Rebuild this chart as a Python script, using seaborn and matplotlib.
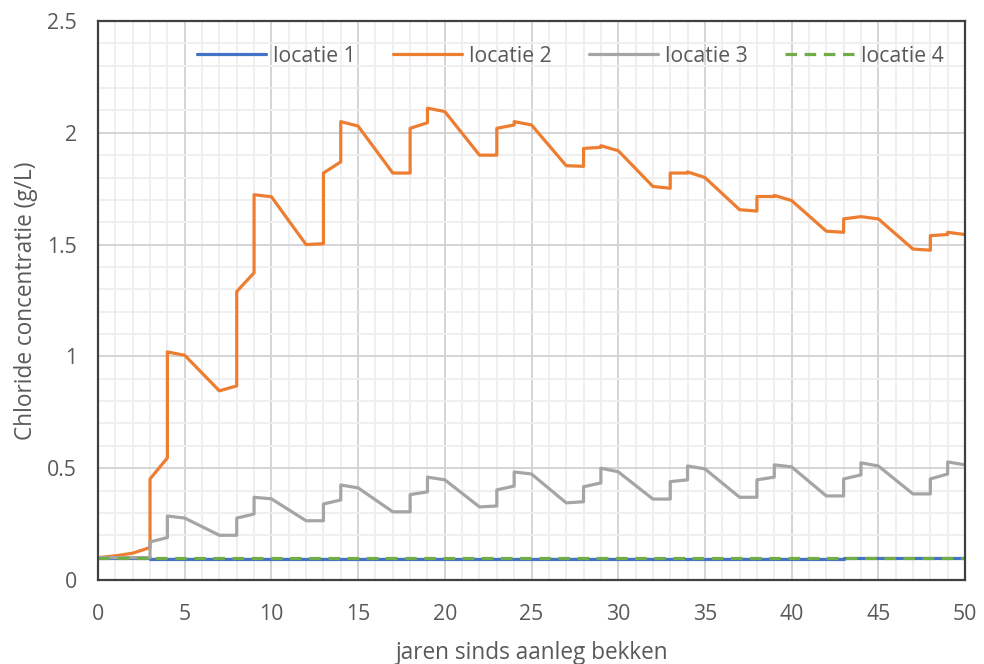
import matplotlib
matplotlib.use("Agg")
import matplotlib.pyplot as plt
from matplotlib.ticker import MultipleLocator, FuncFormatter
import seaborn as sns

# locatie 1
jaren_1 = [0, 3, 3, 43, 43, 50]
chloride_1 = [0.100, 0.100, 0.095, 0.095, 0.100, 0.100]

# locatie 2
jaren_2 = [0, 1, 2, 3, 3, 4, 4, 5, 7, 8, 8, 9, 9, 10, 12, 13, 13, 14, 14, 15,
           17, 18, 18, 19, 19, 20, 22, 23, 23, 24, 24, 25, 27, 28, 28, 29, 29,
           30, 32, 33, 33, 34, 34, 35, 37, 38, 38, 39, 39, 40, 42, 43, 43, 44,
           44, 45, 47, 48, 48, 49, 49, 50]
chloride_2 = [0.100, 0.108, 0.120, 0.145, 0.452, 0.546, 1.020, 1.005, 0.846,
              0.868, 1.290, 1.374, 1.723, 1.714, 1.500, 1.504, 1.820, 1.870,
              2.050, 2.030, 1.820, 1.820, 2.020, 2.045, 2.110, 2.095, 1.900,
              1.900, 2.020, 2.035, 2.050, 2.035, 1.853, 1.850, 1.930, 1.935,
              1.942, 1.920, 1.760, 1.752, 1.820, 1.820, 1.825, 1.800, 1.656,
              1.650, 1.715, 1.715, 1.720, 1.697, 1.560, 1.555, 1.615, 1.625,
              1.625, 1.615, 1.480, 1.475, 1.540, 1.545, 1.555, 1.545]

# locatie 3
jaren_3 = [0, 3, 3, 4, 4, 5, 7, 8, 8, 9, 9, 10, 12, 13, 13, 14, 14, 15, 17,
           18, 18, 19, 19, 20, 22, 23, 23, 24, 24, 25, 27, 28, 28, 29, 29, 30,
           32, 33, 33, 34, 34, 35, 37, 38, 38, 39, 39, 40, 42, 43, 43, 44, 44,
           45, 47, 48, 48, 49, 49, 50]
chloride_3 = [0.100, 0.100, 0.170, 0.190, 0.286, 0.277, 0.200, 0.200, 0.277,
              0.295, 0.370, 0.363, 0.265, 0.265, 0.340, 0.358, 0.425, 0.412,
              0.305, 0.305, 0.382, 0.394, 0.460, 0.448, 0.327, 0.331, 0.403,
              0.420, 0.483, 0.474, 0.345, 0.350, 0.417, 0.434, 0.500, 0.484,
              0.362, 0.362, 0.440, 0.448, 0.510, 0.497, 0.370, 0.370, 0.448,
              0.460, 0.515, 0.506, 0.376, 0.376, 0.452, 0.470, 0.524, 0.510,
              0.385, 0.385, 0.452, 0.474, 0.528, 0.515]

# locatie 4
jaren_4 = [0, 50]
chloride_4 = [0.100, 0.100]

series = [
    ("locatie 1", jaren_1, chloride_1, "#4472C4", "-"),
    ("locatie 2", jaren_2, chloride_2, "#ED7D31", "-"),
    ("locatie 3", jaren_3, chloride_3, "#A5A5A5", "-"),
    ("locatie 4", jaren_4, chloride_4, "#70AD47", (0, (3.6, 2.4))),
]

sns.set_theme(style="white")
plt.rcParams["font.family"] = ["Open Sans", "DejaVu Sans"]

text_color = "#595959"
fig = plt.figure(figsize=(9.84, 6.64), dpi=100)
ax = fig.add_axes([0.0996, 0.1265, 0.8811, 0.8419])

for name, xs, ys, color, ls in series:
    sns.lineplot(x=xs, y=ys, ax=ax, estimator=None, sort=False,
                 color=color, linewidth=2.3, linestyle=ls, label=name)

ax.set_xlim(0, 50)
ax.set_ylim(0, 2.5)
ax.xaxis.set_major_locator(MultipleLocator(5))
ax.xaxis.set_minor_locator(MultipleLocator(1))
ax.yaxis.set_major_locator(MultipleLocator(0.5))
ax.yaxis.set_minor_locator(MultipleLocator(0.1))
ax.yaxis.set_major_formatter(FuncFormatter(lambda v, p: f"{v:g}"))
ax.xaxis.set_major_formatter(FuncFormatter(lambda v, p: f"{v:g}"))

ax.grid(which="minor", color="#EEEEEE", linewidth=1.3)
ax.grid(which="major", color="#D4D4D4", linewidth=1.4)
ax.set_axisbelow(True)

for side in ["left", "right", "top", "bottom"]:
    ax.spines[side].set_visible(True)
    ax.spines[side].set_color("#404040")
    ax.spines[side].set_linewidth(1.6)

ax.tick_params(axis="both", which="both", length=0, labelsize=15.3,
               labelcolor=text_color)
ax.tick_params(axis="y", pad=15)
ax.tick_params(axis="x", pad=17)

ax.set_xlabel("jaren sinds aanleg bekken", fontsize=16.3, color=text_color,
              labelpad=12)
ax.set_ylabel("Chloride concentratie (g/L)", fontsize=16.3, color=text_color,
              labelpad=7)

leg = ax.legend(loc="upper center", bbox_to_anchor=(0.545, 0.99), ncol=4,
                frameon=False, fontsize=15.3, handlelength=3.25,
                columnspacing=1.75, handletextpad=0.33)
for t in leg.get_texts():
    t.set_color(text_color)

fig.savefig("out.png", dpi=100)
